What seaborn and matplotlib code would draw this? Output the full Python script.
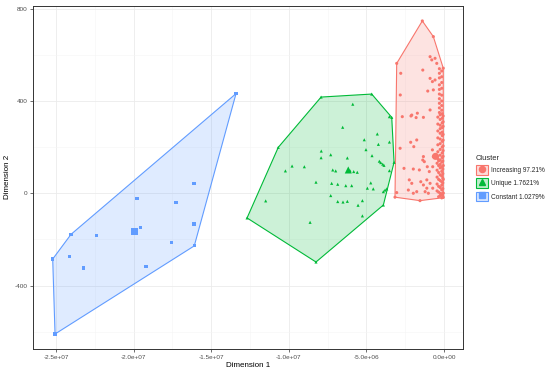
import numpy as np
import pandas as pd
import matplotlib
matplotlib.use("Agg")
import matplotlib.pyplot as plt
from matplotlib.patches import Polygon, Patch
from matplotlib.lines import Line2D
from matplotlib.ticker import MultipleLocator, FuncFormatter
import seaborn as sns

# ---------------- data ----------------
clusters = ["Increasing 97.21%", "Unique 1.7621%", "Constant 1.0279%"]
colors = ["#F8766D", "#00BA38", "#619CFF"]
markers = ["o", "^", "s"]

# Constant cluster (x in units of 1e6)
const_x = [-13.40, -16.09, -25.06, -25.21, -24.03, -16.11, -19.78, -17.27, -16.11,
           -19.57, -22.40, -17.55, -24.14, -23.24, -19.20]
const_y = [432, -228, -610, -285, -178, 42, -23, -39, -133, -149, -182, -214, -275,
           -324, -318]

# Unique cluster
uniq_x = [-7.92, -4.66, -3.52, -3.37, -3.22, -3.91, -5.26, -10.68, -12.69, -8.25,
          -5.88, -6.53, -4.30, -5.14, -3.52, -4.23, -7.91, -5.03, -7.30, -7.92,
          -4.64, -6.23, -4.17, -4.08, -3.95, -3.87, -9.79, -9.00, -10.22, -7.17,
          -6.98, -6.06, -5.82, -5.59, -3.52, -8.25, -7.24, -6.85, -6.33, -5.95,
          -4.72, -4.94, -4.56, -3.80, -3.69, -3.91, -7.30, -11.49, -6.85, -6.51,
          -6.23, -5.26, -5.54, -8.63]
uniq_y = [417, 430, 332, 329, 134, -51, -98, 199, -107, -298,
          386, 286, 257, 232, 222, 212, 183, 189, 167, 154,
          163, 153, 139, 133, 126, 121, 118, 115, 97, 101,
          97, 98, 94, 91, 98, 48, 43, 39, 33, 33,
          45, 22, 19, 14, 19, 7, -10, -33, -36, -38,
          -35, -32, -52, -126]

# Increasing cluster
incr_x = [-1.40, -0.69, -0.05, -0.05, -1.55, -3.16, -3.05,
          -2.79, -1.37, -2.82, -0.90, -0.79, -0.58, -0.47, -0.90, -0.75, -0.58,
          -1.05, -0.69, -2.69, -2.13, -1.72, -1.80, -1.33, -0.90, -2.08, -2.15,
          -1.95, -2.83, -1.76, -1.33, -1.27, -0.75, -0.69, -2.58, -1.98, -1.59,
          -1.08, -0.95, -0.73, -1.37, -2.24, -2.08, -1.50, -1.33, -1.11, -0.90,
          -2.30, -1.98, -1.22, -1.01, -0.73, -3.05, -1.76, -1.11,
          # dense strip near zero
          -0.30, -0.30, -0.30, -0.30, -0.30, -0.30, -0.30, -0.30, -0.30, -0.30,
          -0.15, -0.15, -0.15, -0.15, -0.15, -0.15, -0.15, -0.15,
          -0.40, -0.40, -0.40, -0.40, -0.40, -0.40, -0.40,
          -0.25, -0.25, -0.25, -0.25, -0.25, -0.25, -0.25, -0.25, -0.25, -0.25,
          -0.12, -0.12, -0.12, -0.12, -0.12, -0.12, -0.12, -0.12, -0.12, -0.12,
          -0.06, -0.06, -0.06, -0.06, -0.06, -0.06, -0.06, -0.06,
          -0.45, -0.45, -0.45, -0.45, -0.45,
          -0.35, -0.35, -0.35, -0.35, -0.35, -0.35, -0.35,
          -0.25, -0.25, -0.25, -0.25, -0.25, -0.25, -0.25,
          -0.15, -0.15, -0.15, -0.15, -0.15, -0.15, -0.15, -0.15, -0.15,
          -0.08, -0.08, -0.08, -0.08, -0.08, -0.08, -0.08, -0.08,
          -0.05, -0.05, -0.05]
incr_y = [747, 679, 542, 0, -32, -17, 563,
          520, 534, 426, 592, 578, 585, 563, 498, 484, 491,
          443, 448, 332, 335, 347, 328, 329, 361, 339, 221,
          202, 195, 231, 159, 137, 188, 159, 108, 105, 101,
          115, 94, 115, 144, 58, 43, 50, 36, 58, 43,
          14, 0, 7, 0, 22, 3, 7, 22,
          540, 520, 500, 470, 450, 430, 410, 390, 370, 350,
          530, 505, 480, 455, 425, 400, 380, 360,
          330, 300, 270, 240, 210, 180, 150,
          340, 320, 295, 280, 260, 235, 215, 190, 165, 145,
          345, 325, 305, 285, 265, 250, 225, 200, 175, 155,
          335, 310, 290, 255, 230, 205, 185, 160,
          130, 100, 70, 40, 10,
          140, 120, 90, 60, 30, 5, -15,
          125, 110, 80, 55, 25, 0, -10,
          135, 115, 95, 75, 50, 35, 15, -5, -20,
          140, 105, 85, 65, 45, 20, 2, -12,
          120, 60, -18]

# cluster centers
center_x = [-0.55, -6.17, -19.95]
center_y = [160, 101, -166]

# ---------------- build frame ----------------
frames = []
for name, xs, ys in zip(clusters, [incr_x, uniq_x, const_x], [incr_y, uniq_y, const_y]):
    frames.append(pd.DataFrame({"x": np.array(xs) * 1e6, "y": ys, "Cluster": name}))
df = pd.concat(frames, ignore_index=True)
cdf = pd.DataFrame({"x": np.array(center_x) * 1e6, "y": center_y, "Cluster": clusters})


def hull(points):
    pts = sorted(map(tuple, points))
    def cross(o, a, b):
        return (a[0]-o[0])*(b[1]-o[1]) - (a[1]-o[1])*(b[0]-o[0])
    lower, upper = [], []
    for p in pts:
        while len(lower) >= 2 and cross(lower[-2], lower[-1], p) <= 0:
            lower.pop()
        lower.append(p)
    for p in reversed(pts):
        while len(upper) >= 2 and cross(upper[-2], upper[-1], p) <= 0:
            upper.pop()
        upper.append(p)
    return np.array(lower[:-1] + upper[:-1])

# ---------------- plot ----------------
sns.set_theme(style="white")
plt.rcParams["font.family"] = ["Liberation Sans", "DejaVu Sans"]

fig = plt.figure(figsize=(5.5, 3.71), dpi=100)
ax = fig.add_axes([33.3/550, 1-349/371, (463.3-33.3)/550, (349-5.7)/371])

for name, col in zip(clusters, colors):
    sub = df[df.Cluster == name]
    h = hull(sub[["x", "y"]].values)
    ax.add_patch(Polygon(h, closed=True, facecolor=col, alpha=0.2, edgecolor="none", zorder=1))
    ax.add_patch(Polygon(h, closed=True, facecolor="none", edgecolor=col, lw=0.8, zorder=2))

sns.scatterplot(data=df, x="x", y="y", hue="Cluster", style="Cluster",
                hue_order=clusters, style_order=clusters,
                palette=colors, markers=markers, s=5, linewidth=0,
                legend=False, ax=ax, zorder=3)
sns.scatterplot(data=cdf, x="x", y="y", hue="Cluster", style="Cluster",
                hue_order=clusters, style_order=clusters,
                palette=colors, markers=markers, s=26, linewidth=0,
                legend=False, ax=ax, zorder=4)

ax.set_xlim(-26.46e6, 1.24e6)
ax.set_ylim(-675, 813)
ax.xaxis.set_major_locator(MultipleLocator(5e6))
ax.xaxis.set_minor_locator(MultipleLocator(2.5e6))
ax.yaxis.set_major_locator(MultipleLocator(400))
ax.yaxis.set_minor_locator(MultipleLocator(200))
ax.xaxis.set_major_formatter(FuncFormatter(lambda v, p: f"{v:.1e}"))
ax.yaxis.set_major_formatter(FuncFormatter(lambda v, p: f"{int(round(v))}"))
ax.grid(True, which="major", color="#EBEBEB", lw=0.6, zorder=0)
ax.grid(True, which="minor", color="#F5F5F5", lw=0.4, zorder=0)
ax.set_axisbelow(True)
for s in ax.spines.values():
    s.set_color("#333333")
    s.set_linewidth(0.7)
ax.tick_params(axis="both", which="major", length=2.5, width=0.5, color="#333333",
               labelsize=4.6, labelcolor="#4D4D4D", pad=1.5, bottom=True, left=True)
ax.tick_params(axis="both", which="minor", length=0)
ax.set_xlabel("Dimension 1", fontsize=5.8, color="black", labelpad=2)
ax.set_ylabel("Dimension 2", fontsize=5.8, color="black", labelpad=3)

handles = []
for col, m in zip(colors, markers):
    box = Patch(facecolor=matplotlib.colors.to_rgba(col, 0.25), edgecolor=col, lw=0.8)
    mk = Line2D([], [], marker=m, color=col, linestyle="none", markersize=4.4)
    handles.append((box, mk))
leg = fig.legend(handles, clusters, title="Cluster", loc="upper left",
                 bbox_to_anchor=(473/550, 1-152/371), frameon=False,
                 fontsize=4.7, title_fontsize=5.4, handlelength=1.9, handleheight=1.9,
                 labelspacing=0.55, handletextpad=0.4, borderaxespad=0)
leg._legend_box.align = "left"

fig.savefig("out.png", dpi=100)
